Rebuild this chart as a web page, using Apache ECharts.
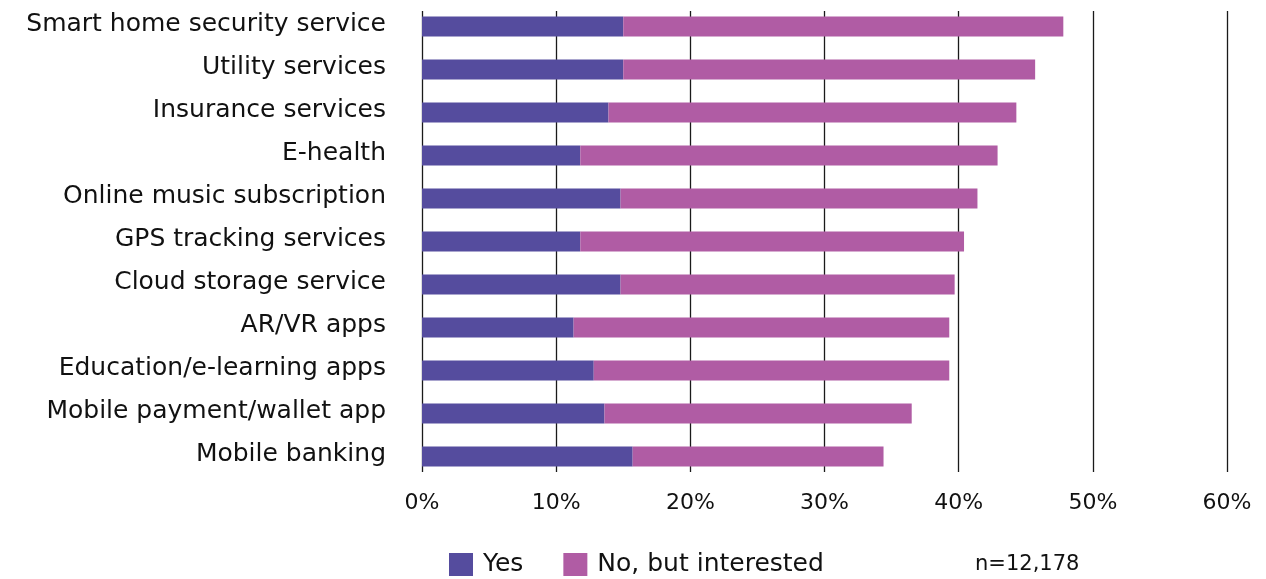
<!DOCTYPE html>
<html>
<head>
<meta charset="utf-8">
<script src="https://cdn.jsdelivr.net/npm/echarts@6/dist/echarts.min.js"></script>
<style>
  html, body { margin: 0; padding: 0; background: #fff; }
  #chart { width: 1266px; height: 579px; }
</style>
</head>
<body>
<div id="chart"></div>
<script>
// Services, top to bottom as drawn
const categories = [
  'Smart home security service',
  'Utility services',
  'Insurance services',
  'E-health',
  'Online music subscription',
  'GPS tracking services',
  'Cloud storage service',
  'AR/VR apps',
  'Education/e-learning apps',
  'Mobile payment/wallet app',
  'Mobile banking'
];
// Share of respondents (%)
const yesValues = [15.0, 15.0, 13.9, 11.8, 14.8, 11.8, 14.8, 11.3, 12.8, 13.6, 15.7];
const interestedValues = [32.8, 30.7, 30.4, 31.1, 26.6, 28.6, 24.9, 28.0, 26.5, 22.9, 18.7];
const seriesNames = ['Yes', 'No, but interested'];
const sampleNote = 'n=12,178';

const FONT = '"DejaVu Sans", sans-serif';
const X_MIN = 0, X_MAX = 60, X_STEP = 10;
const chart = echarts.init(document.getElementById('chart'), null, { renderer: 'canvas' });

chart.setOption({
  animation: false,
  backgroundColor: '#ffffff',
  textStyle: { fontFamily: FONT },
  // grid 0 holds the bars and labels; grid 1 only carries the vertical gridlines,
  // which run a little shorter than the category band
  grid: [
    { left: 422, right: 39, top: 5, bottom: 101, containLabel: false },
    { left: 422, right: 39, top: 11, bottom: 107, containLabel: false }
  ],
  xAxis: [
    {
      type: 'value', gridIndex: 0,
      min: X_MIN, max: X_MAX, interval: X_STEP,
      axisLine: { show: false },
      axisTick: { show: false },
      axisLabel: { formatter: '{value}%', color: '#111', fontSize: 22, fontFamily: FONT, margin: 14 },
      splitLine: { show: false }
    },
    {
      type: 'value', gridIndex: 1,
      min: X_MIN, max: X_MAX, interval: X_STEP,
      axisLine: { show: false },
      axisTick: { show: false },
      axisLabel: { show: false },
      splitLine: { show: true, lineStyle: { color: '#1a1a1a', width: 1.3 } }
    }
  ],
  yAxis: [
    {
      type: 'category', gridIndex: 0,
      inverse: true,
      data: categories,
      axisLine: { show: false },
      axisTick: { show: false },
      axisLabel: {
        color: '#111', fontSize: 25, fontFamily: FONT, margin: 36,
        verticalAlign: 'bottom', lineHeight: 26, padding: [0, 0, -11, 0]
      }
    },
    {
      type: 'value', gridIndex: 1, show: false,
      axisLine: { show: false }, splitLine: { show: false }
    }
  ],
  legend: {
    left: 449, top: 552, padding: 0,
    itemWidth: 24, itemHeight: 23, itemGap: 40,
    icon: 'rect',
    textStyle: { fontSize: 25, color: '#111', fontFamily: FONT, padding: [0, 0, 0, 5] },
    data: seriesNames
  },
  graphic: [{
    type: 'text', left: 975, top: 554,
    style: { text: sampleNote, fontSize: 21, fill: '#111', fontFamily: FONT }
  }],
  series: [
    {
      name: seriesNames[0], type: 'bar', stack: 'total', barWidth: 20,
      xAxisIndex: 0, yAxisIndex: 0,
      itemStyle: { color: '#554C9E' }, data: yesValues
    },
    {
      name: seriesNames[1], type: 'bar', stack: 'total', barWidth: 20,
      xAxisIndex: 0, yAxisIndex: 0,
      itemStyle: { color: '#B05CA4' }, data: interestedValues
    }
  ]
});
</script>
</body>
</html>
